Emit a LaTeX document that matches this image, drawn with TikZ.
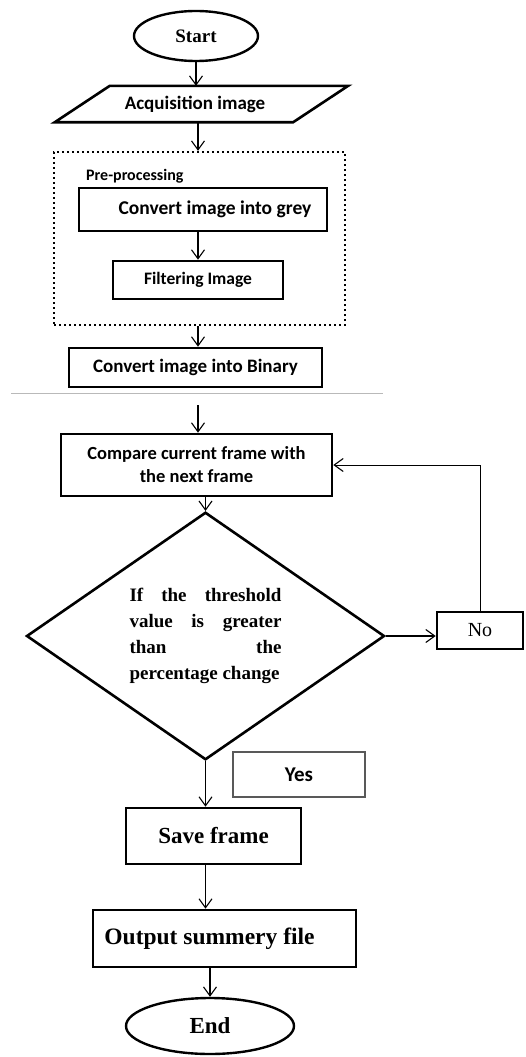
\documentclass[tikz,border=0pt]{standalone}
\usepackage{fontspec}
\setmainfont{Liberation Serif}
\newfontfamily\calibfont{Carlito}
\usetikzlibrary{shapes.geometric,arrows.meta}
\begin{document}
\begin{tikzpicture}[x=1pt,y=1pt,
  box/.style={draw, line width=2.6pt, rectangle, inner sep=0pt, align=center},
  term/.style={draw, line width=2.4pt, ellipse, inner sep=0pt},
  arr/.style={line width=1.1pt, -{Straight Barb[length=9pt,width=13pt,line width=1.1pt]}},
  cal/.style={font=\calibfont\bfseries\fontsize{#1}{23}\selectfont},
  tms/.style={font=\bfseries\fontsize{#1}{26}\selectfont}
]
\useasboundingbox (0,0) rectangle (525,-1057);

\node[term, minimum width=124, minimum height=50, tms=19] (start) at (196,-36) {Start};
\node[minimum width=238, minimum height=36, inner sep=0pt, cal=19]
      (acq) at (201.5,-104) {Acquisition image\hspace*{13pt}};
\draw[line width=2.6pt, line join=miter]
      ([xshift=-27.5pt]acq.south west) -- ([xshift=27.5pt]acq.north west)
      -- ([xshift=27.5pt]acq.north east) -- ([xshift=-27.5pt]acq.south east) -- cycle;

\node[draw, line width=2.4pt, dash pattern=on 2.4pt off 2.6pt, minimum width=291, minimum height=173, inner sep=0pt]
      (pre) at (199.5,-238.5) {};
\node[anchor=base west, cal=16, inner sep=0pt] (prelbl) at (86,-180) {Pre-processing};
\node[box, minimum width=248, minimum height=43, cal=19.5] (grey) at (203,-209.5) {\hspace*{24pt}Convert image into grey};
\node[box, minimum width=170, minimum height=38, cal=17.5] (filt) at (198,-280) {Filtering Image};
\node[box, minimum width=253, minimum height=39, cal=19] (bin) at (195.5,-367.5) {Convert image into Binary};

\draw[gray!55, line width=0.8pt] (11,-393) -- (383,-393);
\coordinate (c1) at (198,-405);

\node[box, minimum width=271, minimum height=62, cal=18.5] (comp) at (196.5,-465) {Compare current frame with\\the next frame};

\node[diamond, draw, line width=2.6pt, minimum width=358, minimum height=216, inner sep=0pt, align=left, tms=19]
   (dia) at (205.5,-636)
   {\makebox[152pt][s]{If the threshold}\\\makebox[152pt][s]{value is greater}\\\makebox[152pt][s]{than the}\\percentage change};

\node[box, minimum width=86, minimum height=37, font=\fontsize{20}{24}\selectfont] (no) at (480,-630.5) {No};
\node[draw=gray!70!black, line width=1.2pt, minimum width=132, minimum height=45, inner sep=0pt, cal=21] (yes) at (299,-774.5) {Yes};
\node[box, minimum width=175, minimum height=56, tms=23] (save) at (213.5,-836) {Save frame};
\node[box, minimum width=263, minimum height=57, tms=23.5] (out) at (224.5,-938.5) {Output summery file\hspace*{30pt}};
\node[term, minimum width=168, minimum height=56, tms=23] (stop) at (210,-1026) {End};

\draw[arr] (start.south) -- (start.south |- acq.north);
\draw[arr] (filt |- acq.south) -- (filt |- pre.north);
\draw[arr] (filt |- grey.south) -- (filt.north);
\draw[arr] (filt |- pre.south) -- (filt |- bin.north);
\draw[arr] (c1) -- (c1 |- comp.north);
\draw[arr] (dia.north |- comp.south) -- (dia.north);
\draw[arr] (dia.east) -- (dia.east -| no.west);
\draw[arr, line width=1pt] (no.north) |- (comp.east);
\draw[arr] (dia.south) -- (dia.south |- save.north);
\draw[arr] (dia.south |- save.south) -- (dia.south |- out.north);
\draw[arr] (stop |- out.south) -- (stop.north);
\end{tikzpicture}
\end{document}
